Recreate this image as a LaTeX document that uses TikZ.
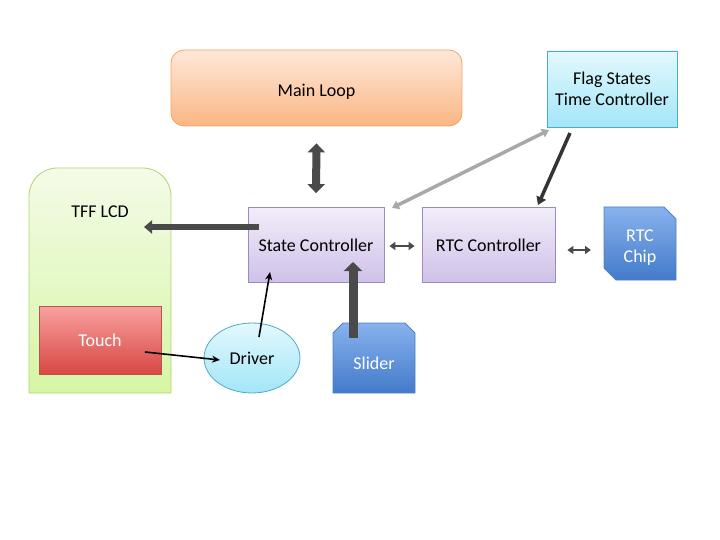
\documentclass[tikz,border=0pt]{standalone}
\usepackage{fontspec}
\setmainfont{Carlito}
\usetikzlibrary{arrows.meta,shapes.geometric,calc}
\definecolor{orgB}{HTML}{F5A35E}
\definecolor{orgT}{HTML}{FEE8D9}
\definecolor{orgD}{HTML}{FBB684}
\definecolor{cyB}{HTML}{4BACC6}
\definecolor{cyT}{HTML}{E3F8FD}
\definecolor{cyD}{HTML}{A3E6F8}
\definecolor{grB}{HTML}{B3D36E}
\definecolor{grT}{HTML}{F4FBE8}
\definecolor{grD}{HTML}{D6F6A4}
\definecolor{rdB}{HTML}{C0504D}
\definecolor{rdT}{HTML}{F9A19E}
\definecolor{rdD}{HTML}{D64744}
\definecolor{lvB}{HTML}{9F88C6}
\definecolor{lvT}{HTML}{F2EDF9}
\definecolor{lvD}{HTML}{CFC1E8}
\definecolor{blB}{HTML}{4F81BD}
\definecolor{blT}{HTML}{88B2EE}
\definecolor{blD}{HTML}{437AC9}
\definecolor{arD}{HTML}{4A4A4A}
\definecolor{arL}{HTML}{A8A8A8}
\begin{document}
\begin{tikzpicture}[x=1pt,y=-1pt,font=\fontsize{18}{21.5}\selectfont,
  box/.style={draw=lvB,line width=0.8pt,top color=lvT,bottom color=lvD,align=center,inner sep=0pt},
  bigarrow/.style={draw=arD,line width=8pt,{Triangle[length=9pt,width=17pt]}-{Triangle[length=9pt,width=17pt]}},
  medarrow/.style={draw=arD,line width=5.5pt,-{Triangle[length=8pt,width=13pt]}},
  widearrow/.style={draw=arD,line width=9pt,-{Triangle[length=9pt,width=18pt]}},
  thinarrow/.style={draw=black,line width=1.6pt,-{Stealth[length=8pt,width=7pt]}},
  smalldbl/.style={draw=arD,line width=2.8pt,{Triangle[length=6pt,width=8pt]}-{Triangle[length=6pt,width=8pt]}},
  lightdbl/.style={draw=arL,line width=3.5pt,{Triangle[length=7pt,width=9pt]}-{Triangle[length=7pt,width=9pt]}},
  darkone/.style={draw=arD!70!black,line width=3.5pt,-{Triangle[length=8pt,width=10pt]}}
]
\useasboundingbox (0,0) rectangle (720,540);
% Main Loop
\node[draw=orgB,line width=0.8pt,top color=orgT,bottom color=orgD,rounded corners=13pt,
  minimum width=291pt,minimum height=76pt] (main) at (316.5,88) {\raisebox{-3.5pt}[\height][\depth]{Main Loop}};
% Flag states
\node[draw=cyB,line width=0.8pt,top color=cyT,bottom color=cyD,align=center,
  minimum width=130pt,minimum height=76pt] (flag) at (612,89) {Flag States\\Time Controller};
% TFF LCD
\path[draw=grB,line width=0.8pt,top color=grT,bottom color=grD]
  (29,393) -- (29,196) arc[start angle=180,end angle=270,radius=28]
  -- (143,168) arc[start angle=270,end angle=360,radius=28] -- (171,393) -- cycle;
\node (lcdlabel) at (100,212) {TFF LCD};
\coordinate (lcdin) at (144,227);
% Touch
\node[draw=rdB,line width=0.8pt,top color=rdT,bottom color=rdD,text=white,
  minimum width=122pt,minimum height=68pt] (touch) at (100,340) {Touch};
% State & RTC controllers
\node[box,minimum width=136pt,minimum height=75pt] (state) at (316,245) {State Controller};
\node[box,minimum width=133pt,minimum height=75pt] (rtc) at (488.5,245) {RTC Controller};
% RTC chip
\path[draw=blB,line width=0.8pt,top color=blT,bottom color=blD]
  (604,207) -- (664,207) -- (676,219) -- (676,280) -- (616,280) -- (604,268) -- cycle;
\node[text=white,align=center] (chip) at (640,247.5) {RTC\\Chip};
% Slider
\path[draw=blB,line width=0.8pt,top color=blT,bottom color=blD]
  (343,323) -- (405,323) -- (415,333) -- (415,393) -- (333,393) -- (333,333) -- cycle;
\node[text=white] (slider) at (374,363) {Slider};
% Driver
\node[ellipse,draw=cyB,line width=0.8pt,top color=cyT,bottom color=cyD,
  minimum width=96pt,minimum height=70pt,inner sep=0pt] (driver) at (252,358) {Driver};
% Connectors
\draw[bigarrow] ([yshift=-17pt]main.south) -- ([yshift=14pt]state.north);
\draw[medarrow] ($(state.center)+(-57,-18)$) -- (lcdin);
\draw[widearrow] ($(slider.center)+(-21,-25)$) -- ($(state.center)+(37,17)$);
\draw[thinarrow] ($(touch.center)+(45,12)$) -- ($(driver.center)+(-32,2)$);
\draw[thinarrow] ($(driver.center)+(7,-21)$) -- ($(state.center)+(-46,27)$);
\draw[smalldbl] ($(state.east)+(5,1)$) -- ($(rtc.west)+(-7,1)$);
\draw[smalldbl] ($(rtc.east)+(12,5)$) -- ($(chip.center)+(-49,2.5)$);
\draw[lightdbl] ($(flag.center)+(-63,41)$) -- ($(state.center)+(76,-37)$);
\draw[darkone] ($(flag.center)+(-42,44)$) -- ($(rtc.center)+(49.5,-40)$);
\end{tikzpicture}
\end{document}
